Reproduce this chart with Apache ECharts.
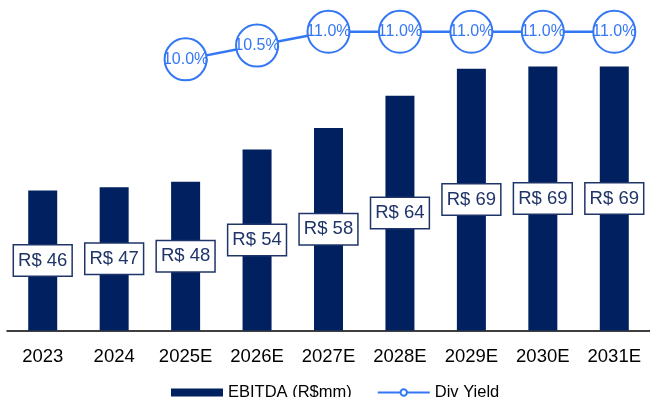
<!DOCTYPE html>
<html>
<head>
<meta charset="utf-8">
<script src="https://cdn.jsdelivr.net/npm/echarts@6/dist/echarts.min.js"></script>
<style>
html,body{margin:0;padding:0;background:#fff;}
#chart{width:650px;height:397px;}
</style>
</head>
<body>
<div id="chart"></div>
<script>
const categories = ['2023','2024','2025E','2026E','2027E','2028E','2029E','2030E','2031E'];
const ebitda = [46.0, 46.6, 47.6, 53.6, 57.6, 63.6, 68.6, 69.0, 69.0];
const divYield = ['-', '-', 10.0, 10.5, 11.0, 11.0, 11.0, 11.0, 11.0];
const seriesNames = ['EBITDA (R$mm)', 'Div Yield'];

const NAVY = '#002060';
const BLUE = '#3477F5';
const FONT = 'Liberation Sans, Arial, sans-serif';
const NARROW = 'Liberation Sans Narrow, Arial Narrow, Liberation Sans, sans-serif';

const chart = echarts.init(document.getElementById('chart'), null, {renderer: 'canvas'});
chart.setOption({
  animation: false,
  backgroundColor: '#ffffff',
  textStyle: {fontFamily: FONT},
  grid: {left: 7, right: 0, top: 10, bottom: 66.5, containLabel: false},
  legend: {
    left: 166, top: 379,
    itemWidth: 52, itemHeight: 8, itemGap: 25,
    textStyle: {fontFamily: FONT, fontSize: 16.5, color: '#000'},
    data: [
      {name: seriesNames[0], icon: 'rect'},
      {name: seriesNames[1]}
    ]
  },
  xAxis: {
    type: 'category',
    data: categories,
    axisLine: {lineStyle: {color: '#000', width: 1.5}},
    axisTick: {inside: true, length: 4, lineStyle: {color: '#000', width: 1}},
    axisLabel: {fontFamily: FONT, fontSize: 18.5, color: '#000', margin: 17}
  },
  yAxis: [
    {type: 'value', min: 20, max: 79.5, show: false, splitLine: {show: false}},
    {type: 'value', min: 0.17, max: 11.79, show: false, splitLine: {show: false}}
  ],
  series: [
    {
      name: seriesNames[0],
      type: 'bar',
      yAxisIndex: 0,
      data: ebitda,
      barWidth: 29,
      itemStyle: {color: NAVY},
      label: {
        show: true,
        position: 'inside',
        formatter: p => 'R$ ' + Math.round(p.value),
        fontFamily: FONT,
        fontSize: 18.5,
        color: '#1F3468',
        backgroundColor: '#fff',
        borderColor: '#1F3468',
        borderWidth: 1.5,
        padding: [5, 4, 5, 4],
        lineHeight: 20
      }
    },
    {
      name: seriesNames[1],
      type: 'line',
      yAxisIndex: 1,
      data: divYield,
      symbol: 'circle',
      symbolSize: 42,
      showAllSymbol: true,
      lineStyle: {color: BLUE, width: 2.5},
      itemStyle: {color: '#fff', borderColor: BLUE, borderWidth: 2},
      label: {
        show: true,
        position: 'inside',
        formatter: p => p.value.toFixed(1) + '%',
        fontFamily: NARROW,
        fontSize: 16,
        color: BLUE
      },
      z: 5
    }
  ]
});
</script>
</body>
</html>
